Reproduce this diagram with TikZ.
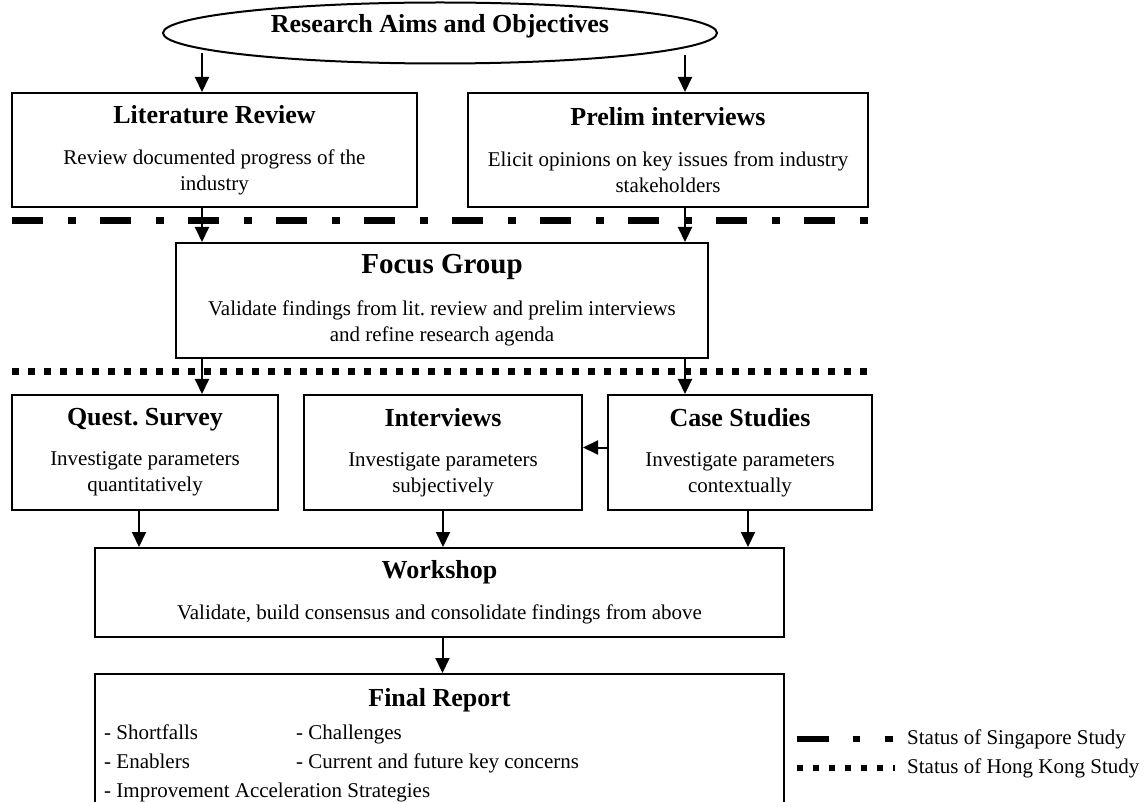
\documentclass[tikz,border=0pt]{standalone}
\usepackage{fontspec}
\setmainfont{Liberation Serif}
\usetikzlibrary{arrows.meta,shapes.geometric,positioning}
\frenchspacing

\newcommand{\stagetitle}[1]{{\fontsize{26}{30}\selectfont\bfseries #1}}

\tikzset{
  stagebox/.style={draw, line width=2pt, align=center, inner sep=0pt,
    font=\fontsize{21}{26}\selectfont},
  flowarrow/.style={line width=2pt, -{Triangle[length=15pt,width=14pt]}},
  sgline/.style={line width=7pt, dash pattern=on 31pt off 25pt on 8pt off 24pt},
  hkline/.style={line width=7pt, dash pattern=on 7pt off 9pt},
}

\begin{document}
\begin{tikzpicture}[x=1pt,y=-1pt]
\useasboundingbox (0,0) rectangle (1144,802);
\clip (0,0) rectangle (1144,802);

% columns of the long arrows
\coordinate (colL) at (202,0);
\coordinate (colR) at (685,0);

% aims
\node[draw, ellipse, line width=2pt, inner sep=0pt,
      minimum width=554pt, minimum height=61pt] (aims) at (440,33) {};
\node[font=\fontsize{26}{30}\selectfont\bfseries] (aimstext) at (440,26) {Research Aims and Objectives};

% first stage
\node[stagebox, minimum width=405pt, minimum height=114pt] (litrev) at (214.5,150)
  {\stagetitle{Literature Review}\\[15pt]Review documented progress of the\\industry};
\node[stagebox, minimum width=400pt, minimum height=114pt] (prelim) at (668,150)
  {\stagetitle{Prelim interviews}\\[15pt]Elicit opinions on key issues from industry\\stakeholders};

\coordinate (sgA) at (12,221);
\coordinate (sgB) at (870,221);
\draw[sgline] (sgA) -- (sgB);

% focus group
\node[stagebox, minimum width=532pt, minimum height=115pt] (focus) at (442,300.5)
  {{\fontsize{29}{33}\selectfont\bfseries Focus Group}\\[16pt]Validate findings from lit. review and prelim interviews\\and refine research agenda};

\coordinate (hkA) at (12,372);
\coordinate (hkB) at (870,372);
\draw[hkline] (hkA) -- (hkB);

% second stage
\node[stagebox, minimum width=266pt, minimum height=115pt] (quest) at (145,452.5)
  {\stagetitle{Quest. Survey}\\[14pt]Investigate parameters\\quantitatively};
\node[stagebox, minimum width=278pt, minimum height=115pt] (interviews) at (443,452.5)
  {\stagetitle{Interviews}\\[14pt]Investigate parameters\\subjectively};
\node[stagebox, minimum width=264pt, minimum height=115pt] (casestudy) at (740,452.5)
  {\stagetitle{Case Studies}\\[14pt]Investigate parameters\\contextually};

% workshop and report
\node[stagebox, minimum width=689pt, minimum height=89pt] (workshop) at (439.5,592.5)
  {\stagetitle{Workshop}\\[15pt]Validate, build consensus and consolidate findings from above};
\node[draw, line width=2pt, minimum width=689pt, minimum height=200pt, anchor=north] (final) at (439.5,673) {};
\node[font=\fontsize{26}{30}\selectfont\bfseries] (finaltitle) at (439.5,700) {Final Report};
\node[anchor=base west, inner sep=0pt, font=\fontsize{21}{29}\selectfont] (finallist) at (104,739)
  {\begin{tabular}[t]{@{}p{192pt}@{}l@{}}
   - Shortfalls & - Challenges\\
   - Enablers & - Current and future key concerns\\
   \multicolumn{2}{@{}l@{}}{- Improvement Acceleration Strategies}
   \end{tabular}};

% arrows
\draw[flowarrow] ([yshift=11pt]aims.south -| colL) -- (litrev.north -| colL);
\draw[flowarrow] ([yshift=9pt]aims.south -| colR) -- (prelim.north -| colR);
\draw[flowarrow] (litrev.south -| colL) -- (focus.north -| colL);
\draw[flowarrow] (prelim.south -| colR) -- (focus.north -| colR);
\draw[flowarrow] (focus.south -| colL) -- (quest.north -| colL);
\draw[flowarrow] (focus.south -| colR) -- (casestudy.north -| colR);
\draw[flowarrow] ([yshift=5pt]casestudy.west) -- ([yshift=5pt]interviews.east);
\draw[flowarrow] ([xshift=-6pt]quest.south) -- ([xshift=-6pt]quest.south |- workshop.north);
\draw[flowarrow] (interviews.south) -- (interviews.south |- workshop.north);
\draw[flowarrow] ([xshift=8pt]casestudy.south) -- ([xshift=8pt]casestudy.south |- workshop.north);
\draw[flowarrow] ([xshift=3pt]workshop.south) -- ([xshift=3pt]final.north);

% legend
\coordinate (keySgA) at (797,739);
\coordinate (keySgB) at (893,739);
\draw[line width=6pt, dash pattern=on 32pt off 24pt on 7pt off 25pt] (keySgA) -- (keySgB);
\node[anchor=west, inner sep=0pt, font=\fontsize{21}{25}\selectfont] (keySg) at (907,739) {Status of Singapore Study};
\coordinate (keyHkA) at (797,768);
\coordinate (keyHkB) at (895,768);
\draw[line width=6pt, dash pattern=on 6pt off 10pt] (keyHkA) -- (keyHkB);
\node[anchor=west, inner sep=0pt, font=\fontsize{21}{25}\selectfont] (keyHk) at (907,768) {Status of Hong Kong Study};
\end{tikzpicture}
\end{document}
